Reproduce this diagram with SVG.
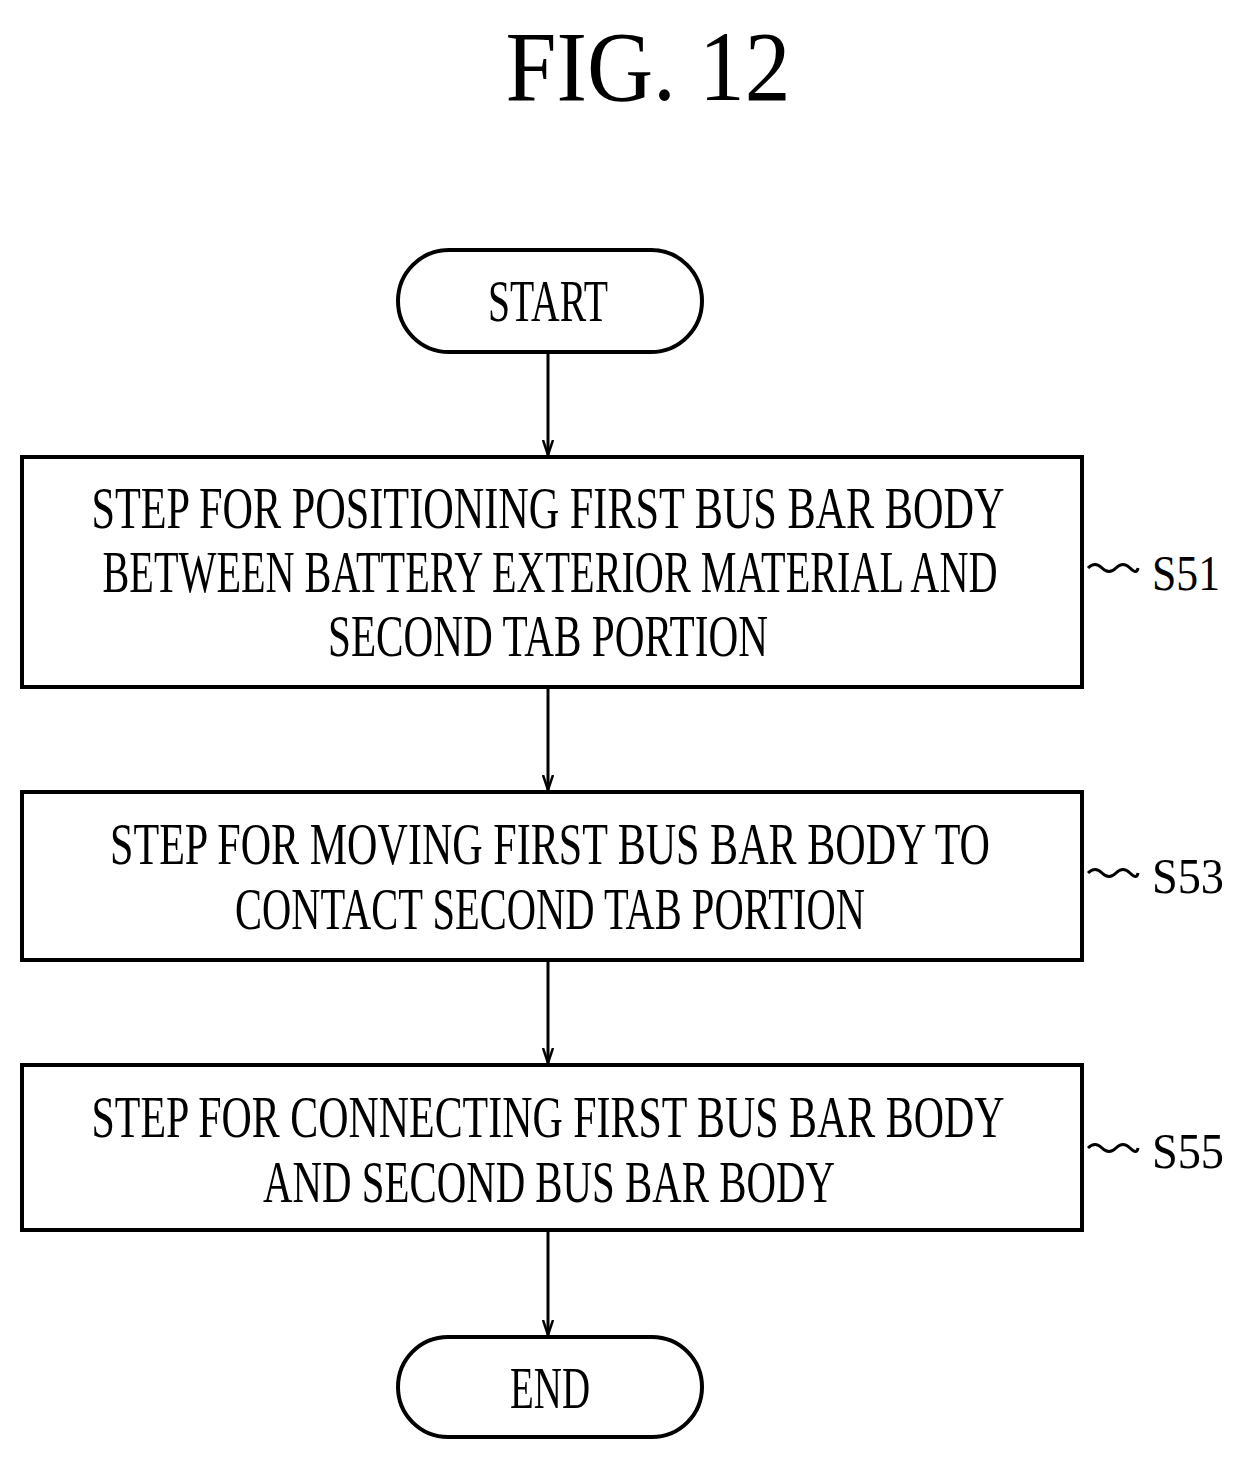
<svg xmlns="http://www.w3.org/2000/svg" width="1244" height="1465" viewBox="0 0 1244 1465">
<style>
.b{fill:none;stroke:#000;stroke-width:4}
.t{font-family:"Liberation Serif",serif;font-size:60px;fill:#000;text-anchor:middle}
.l{font-family:"Liberation Serif",serif;font-size:50px;fill:#000}
.c{fill:none;stroke:#000;stroke-width:3}
</style>
<defs><marker id="a" markerWidth="16" markerHeight="12" refX="15" refY="6" orient="auto" markerUnits="userSpaceOnUse" viewBox="0 0 16 12"><path d="M0,1 L15,6 L0,11" fill="none" stroke="#000" stroke-width="2.5"/></marker></defs>
<rect width="1244" height="1465" fill="#fff"/>
<text x="648" y="100" font-family="Liberation Serif,serif" font-size="100" text-anchor="middle" textLength="285" lengthAdjust="spacingAndGlyphs">FIG. 12</text>
<g id="start"><rect class="b" x="398" y="250" width="304" height="102" rx="51"/><text class="t" x="548" y="321" textLength="120" lengthAdjust="spacingAndGlyphs">START</text></g>
<g id="s51"><rect class="b" x="22" y="457" width="1060" height="230"/>
<text class="t" x="548" y="528" textLength="913" lengthAdjust="spacingAndGlyphs">STEP FOR POSITIONING FIRST BUS BAR BODY</text>
<text class="t" x="550" y="592" textLength="895" lengthAdjust="spacingAndGlyphs">BETWEEN BATTERY EXTERIOR MATERIAL AND</text>
<text class="t" x="548" y="656" textLength="440" lengthAdjust="spacingAndGlyphs">SECOND TAB PORTION</text>
<path class="c" d="M1088,568 q7,-7 14,0 t14,0 t14,0 t8,0"/><text class="l" x="1152" y="590" textLength="68" lengthAdjust="spacingAndGlyphs">S51</text></g>
<g id="s53"><rect class="b" x="22" y="792" width="1060" height="168"/>
<text class="t" x="550" y="864" textLength="880" lengthAdjust="spacingAndGlyphs">STEP FOR MOVING FIRST BUS BAR BODY TO</text>
<text class="t" x="550" y="929" textLength="630" lengthAdjust="spacingAndGlyphs">CONTACT SECOND TAB PORTION</text>
<path class="c" d="M1088,873 q7,-7 14,0 t14,0 t14,0 t8,0"/><text class="l" x="1152" y="893" textLength="72" lengthAdjust="spacingAndGlyphs">S53</text></g>
<g id="s55"><rect class="b" x="22" y="1065" width="1060" height="165"/>
<text class="t" x="548" y="1137" textLength="913" lengthAdjust="spacingAndGlyphs">STEP FOR CONNECTING FIRST BUS BAR BODY</text>
<text class="t" x="549" y="1202" textLength="572" lengthAdjust="spacingAndGlyphs">AND SECOND BUS BAR BODY</text>
<path class="c" d="M1088,1148 q7,-7 14,0 t14,0 t14,0 t8,0"/><text class="l" x="1152" y="1168" textLength="72" lengthAdjust="spacingAndGlyphs">S55</text></g>
<g id="end"><rect class="b" x="398" y="1337" width="304" height="100" rx="50"/><text class="t" x="550" y="1408" textLength="80" lengthAdjust="spacingAndGlyphs">END</text></g>
<g id="connectors" fill="none" stroke="#000" stroke-width="3">
<line x1="548" y1="352" x2="548" y2="455" marker-end="url(#a)"/>
<line x1="548" y1="687" x2="548" y2="790" marker-end="url(#a)"/>
<line x1="548" y1="960" x2="548" y2="1063" marker-end="url(#a)"/>
<line x1="548" y1="1230" x2="548" y2="1335" marker-end="url(#a)"/>
</g>
</svg>
